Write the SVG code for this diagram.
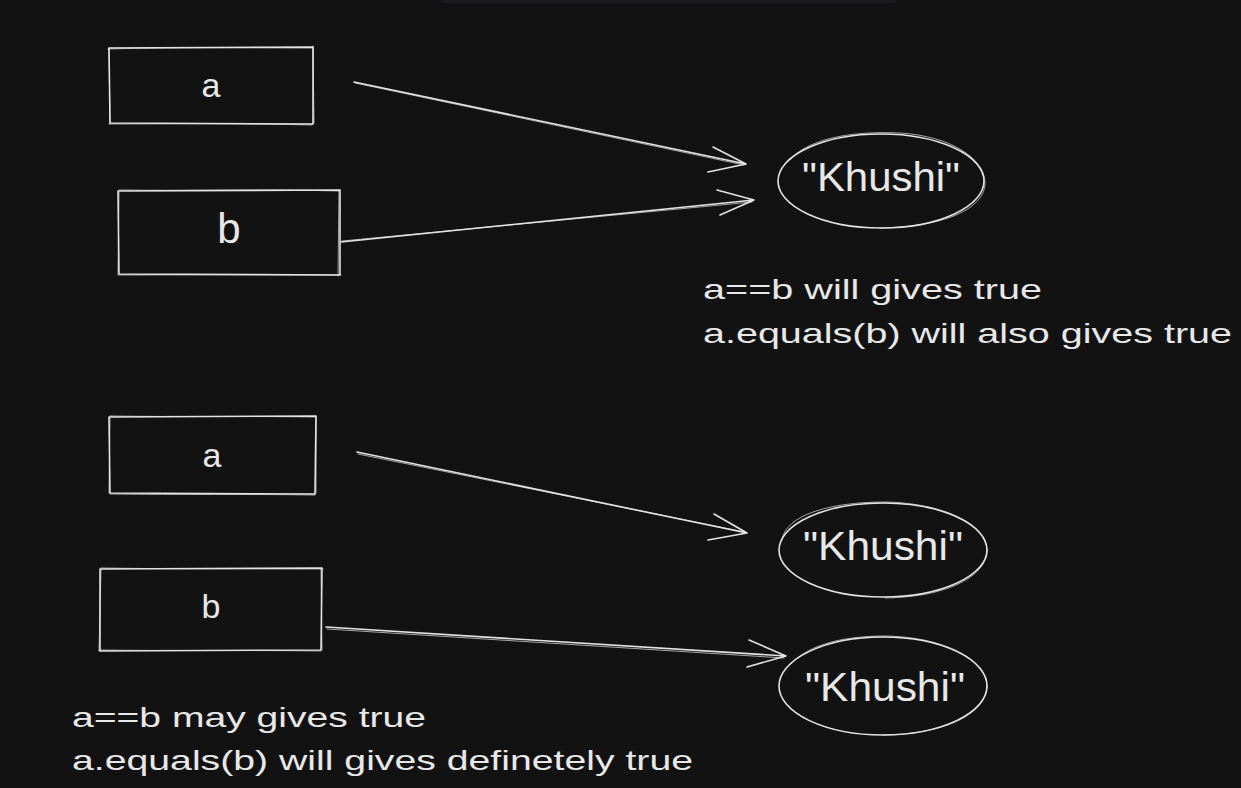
<svg xmlns="http://www.w3.org/2000/svg" width="1241" height="788" viewBox="0 0 1241 788">
  <style>
    .s { fill: none; stroke: #e3e3e3; stroke-width: 1.6; stroke-linecap: round; stroke-linejoin: round; }
    .s2 { fill: none; stroke: #e3e3e3; stroke-width: 1; stroke-linecap: round; opacity: 0.7; }
    .t { fill: #e8e8e8; font-family: "Liberation Sans", "DejaVu Sans", sans-serif; }
    .lbl { font-size: 34px; text-anchor: middle; }
    .note { font-size: 28px; }
    .str { font-size: 40px; }
  </style>
  <rect x="0" y="0" width="1241" height="788" fill="#121212"/>
  <rect x="440" y="-6" width="457" height="9" rx="4" fill="#191a1f"/>

  <g id="node-a1">
    <path class="s" d="M109 48 L313 47 L313 124 L110 123 Z"/>
    <path class="s2" d="M108 49 C170 47 250 48 312 48 M313 46 L314 123 M312 125 C240 123 170 124 109 124 M110 124 L109 48"/>
    <text class="t lbl" x="211" y="97">a</text>
  </g>
  <g id="node-b1">
    <path class="s" d="M118 191 L340 190 L340 275 L119 274 Z"/>
    <path class="s2" d="M119 190 C190 191 270 189 339 191 M339 190 L338 276 M341 275 C270 274 190 275 118 275 M118 274 L119 192"/>
    <text class="t lbl" x="229" y="243" style="font-size:42px">b</text>
  </g>
  <g id="node-s1">
    <ellipse class="s" cx="881" cy="181" rx="103" ry="47"/>
    <path class="s2" d="M790 160 C810 136 860 131 900 133 C950 136 984 158 985 182 C986 206 950 227 880 228"/>
    <text class="t str" x="802" y="191" textLength="158" lengthAdjust="spacingAndGlyphs">"Khushi"</text>
  </g>
  <g id="note-1">
    <text class="t note" x="703" y="299" textLength="339" lengthAdjust="spacingAndGlyphs">a==b will gives true</text>
    <text class="t note" x="703" y="343" textLength="529" lengthAdjust="spacingAndGlyphs">a.equals(b) will also gives true</text>
  </g>

  <g id="node-a2">
    <path class="s" d="M109 417 L316 416 L315 494 L110 493 Z"/>
    <path class="s2" d="M110 416 C180 417 250 416 315 417 M316 416 L316 493 M315 495 C250 494 180 495 110 494 M109 493 L110 418"/>
    <text class="t lbl" x="212" y="467">a</text>
  </g>
  <g id="node-b2">
    <path class="s" d="M100 569 L322 568 L321 650 L100 651 Z"/>
    <path class="s2" d="M101 568 C170 569 250 569 323 569 M321 569 L322 650 M321 651 C250 650 170 651 99 650 M99 651 L101 570"/>
    <text class="t lbl" x="211" y="618">b</text>
  </g>
  <g id="node-s2">
    <ellipse class="s" cx="883" cy="550" rx="104" ry="47"/>
    <path class="s2" d="M782 540 C785 515 830 502 885 502 C945 503 986 525 987 550 C987 575 950 597 885 598"/>
    <text class="t str" x="803" y="560" textLength="160" lengthAdjust="spacingAndGlyphs">"Khushi"</text>
  </g>
  <g id="node-s3">
    <ellipse class="s" cx="883" cy="686" rx="104" ry="49"/>
    <path class="s2" d="M790 665 C810 642 850 636 885 636 C945 637 987 660 987 686 C986 712 950 734 883 735"/>
    <text class="t str" x="805" y="701" textLength="160" lengthAdjust="spacingAndGlyphs">"Khushi"</text>
  </g>
  <g id="note-2">
    <text class="t note" x="72" y="727" textLength="354" lengthAdjust="spacingAndGlyphs">a==b may gives true</text>
    <text class="t note" x="72" y="770" textLength="621" lengthAdjust="spacingAndGlyphs">a.equals(b) will gives definetely true</text>
  </g>

  <g id="connectors">
    <path class="s" d="M354 82 L746 164 M713 147 L746 164 L708 172"/>
    <path class="s2" d="M355 83 L744 165"/>
    <path class="s" d="M341 242 L754 200 M717 190 L754 200 L720 215"/>
    <path class="s2" d="M342 241 L752 202"/>
    <path class="s" d="M357 452 L747 533 M714 514 L747 533 L708 540"/>
    <path class="s2" d="M358 454 L745 532"/>
    <path class="s" d="M326 627 L786 656 M749 640 L786 656 L747 667"/>
    <path class="s2" d="M327 629 L784 658"/>
  </g>
</svg>
